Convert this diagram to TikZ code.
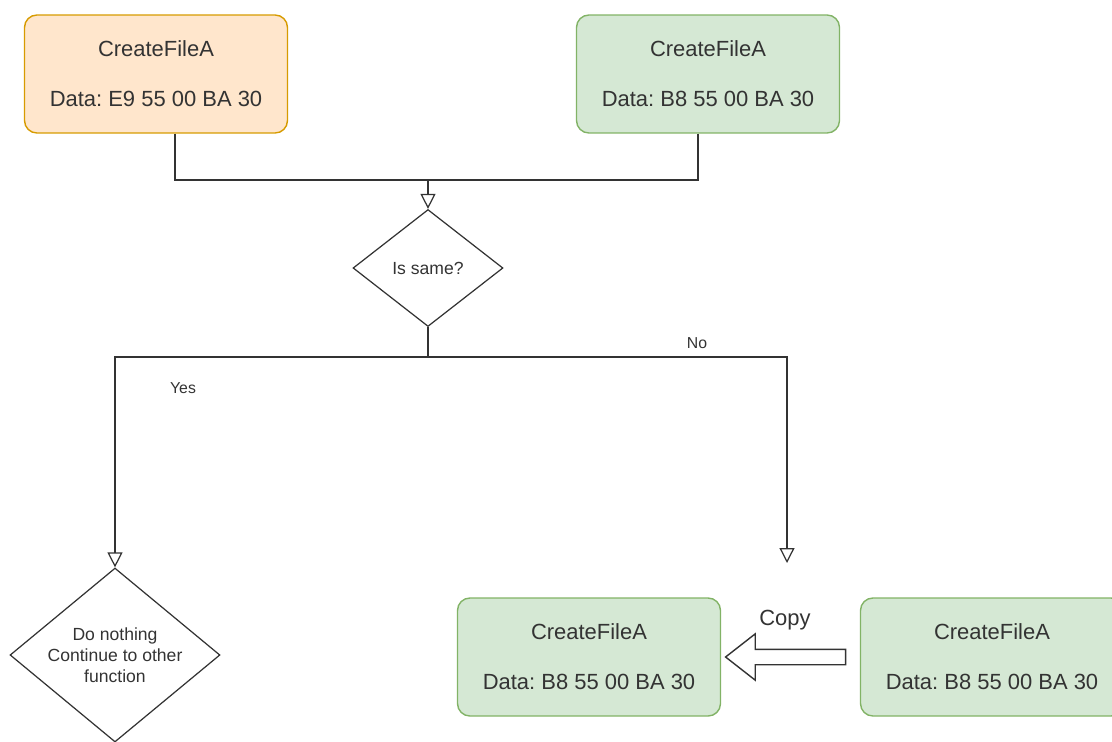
\documentclass[tikz,border=0pt]{standalone}
\usepackage{fontspec}
\setmainfont{Liberation Sans}
\frenchspacing
\usetikzlibrary{arrows.meta, positioning, calc, shapes.geometric, shapes.arrows}

\definecolor{orangefill}{HTML}{FFE6CC}
\definecolor{orangeline}{HTML}{D79B00}
\definecolor{greenfill}{HTML}{D5E8D4}
\definecolor{greenline}{HTML}{82B366}
\definecolor{ink}{HTML}{333333}

\begin{document}
\begin{tikzpicture}[
    x=0.02cm, y=-0.02cm,
    >={Triangle[open, length=8.5pt, width=8.5pt]},
    line width=0.7pt,
    file/.style={rectangle, rounded corners=7pt, draw, line width=0.8pt,
        minimum width=5.26cm, minimum height=2.36cm, align=center,
        font=\fontsize{12.5}{14.4}\selectfont, text=ink},
    orangefile/.style={file, fill=orangefill, draw=orangeline},
    greenfile/.style={file, fill=greenfill, draw=greenline},
    decision/.style={diamond, aspect=1.2, draw=ink, inner sep=0pt, align=center,
        font=\fontsize{10}{12}\selectfont, text=ink},
    lbl/.style={font=\fontsize{9}{11}\selectfont, text=ink}
]

\useasboundingbox (0,0) rectangle (1112,741);

% Nodes ------------------------------------------------------

\node[orangefile] (fileA) at (156,74) {CreateFileA\\[14pt]Data: E9 55 00 BA 30};
\node[greenfile] (fileB) at (708,74) {CreateFileA\\[14pt]Data: B8 55 00 BA 30};

\node[decision, minimum width=3cm, minimum height=2.34cm] (same) at (428,268) {Is same?};
\node[decision, minimum width=4.2cm, minimum height=3.48cm] (nothing) at (115,655)
    {Do nothing\\Continue to other\\function};

\node[greenfile] (copyB) at (589,657) {CreateFileA\\[14pt]Data: B8 55 00 BA 30};
\node[greenfile] (fileC) at (992,657) {CreateFileA\\[14pt]Data: B8 55 00 BA 30};

\node[single arrow, draw=ink, line width=0.8pt, fill=white, shape border rotate=180,
    minimum height=2.4cm, inner sep=0.14cm, single arrow head extend=0.31cm,
    single arrow tip angle=76] (copy) at ($(copyB.east)!0.5!(fileC.west)$) {};
\node[font=\fontsize{12.5}{15}\selectfont, text=ink] (copylbl) at (785,620) {Copy};

\node[lbl] (yes) at (183,388) {Yes};
\node[lbl] (no) at (697,343) {No};

\coordinate (join) at (428,180);
\coordinate (split) at (428,357);
\coordinate (noend) at (787,563);

% Arrows ---------------------------------------------------

\draw [ink] (fileA.south) ++(19,0) |- (join);
\draw [ink] (fileB.south) ++(-10,0) |- (join);
\draw [ink, ->] (join) -- (same.north);

\draw [ink] (same.south) -- (split);
\draw [ink, ->] (split) -| (nothing.north);
\draw [ink, ->] (split) -| (noend);

\end{tikzpicture}
\end{document}
